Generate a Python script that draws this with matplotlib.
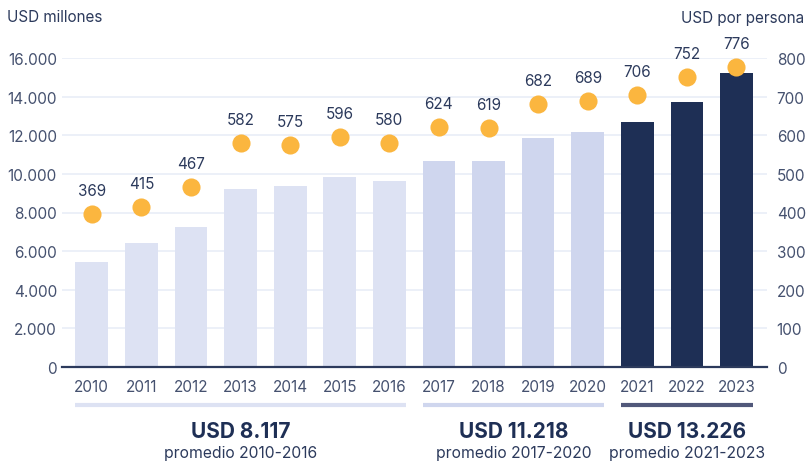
import matplotlib.pyplot as plt
from matplotlib.ticker import FuncFormatter

plt.rcParams['font.family'] = ['Inter', 'DejaVu Sans']

# datos
years = ['2010', '2011', '2012', '2013', '2014', '2015', '2016',
         '2017', '2018', '2019', '2020', '2021', '2022', '2023']
usd_millones = [5440, 6420, 7250, 9220, 9380, 9840, 9640,
                10670, 10670, 11860, 12180, 12690, 13730, 15230]
usd_persona_pos = [396, 414, 466, 580, 574, 595, 580,
                   622, 618, 681, 689, 704, 751, 777]
usd_persona_lbl = ['369', '415', '467', '582', '575', '596', '580',
                   '624', '619', '682', '689', '706', '752', '776']
groups = [(0, 6), (7, 10), (11, 13)]
group_avg = ['USD 8.117', 'USD 11.218', 'USD 13.226']
group_sub = ['promedio 2010-2016', 'promedio 2017-2020', 'promedio 2021-2023']

c_light = '#dde2f3'
c_mid = '#cfd6ee'
c_dark = '#1e2f55'
c_line_dark = '#51587a'
c_dot = '#fbb63f'
c_text = '#2c3a5c'
c_tick = '#45516f'

bar_colors = [c_light] * 7 + [c_mid] * 4 + [c_dark] * 3
grp_colors = [c_light, c_mid, c_line_dark]

fig = plt.figure(figsize=(8.06, 4.64), dpi=100)
ax = fig.add_axes([62 / 806, 1 - 368 / 464, 705 / 806, 309 / 464])
x = list(range(len(years)))

ax.bar(x, usd_millones, width=0.66, color=bar_colors, zorder=2)
ax.set_xlim(-0.6, 13.615)
ax.set_ylim(0, 16000)
ax.set_yticks(range(0, 16001, 2000))
ax.yaxis.set_major_formatter(FuncFormatter(lambda v, p: f'{int(v):,}'.replace(',', '.')))
ax.grid(axis='y', color='#e9edf7', lw=1.2, zorder=0)
ax.set_axisbelow(True)
ax.axhline(0, color=c_text, lw=1.6, zorder=3, clip_on=False)
for s in ax.spines.values():
    s.set_visible(False)
ax.set_xticks(x)
ax.set_xticklabels(years)
ax.tick_params(axis='x', length=0, pad=9, labelsize=11, labelcolor=c_tick)
ax.tick_params(axis='y', length=0, pad=3.6, labelsize=11, labelcolor=c_tick)

ax2 = ax.twinx()
ax2.set_ylim(0, 800)
ax2.set_yticks(range(0, 801, 100))
for s in ax2.spines.values():
    s.set_visible(False)
ax2.tick_params(axis='y', length=0, pad=7, labelsize=11, labelcolor=c_tick)
ax2.scatter(x, usd_persona_pos, s=170, color=c_dot, zorder=4, clip_on=False, linewidths=0)
for i, (v, t) in enumerate(zip(usd_persona_pos, usd_persona_lbl)):
    ax2.annotate(t, (i, v), xytext=(0, 17), textcoords='offset points',
                 ha='center', va='center', fontsize=11, color=c_text)

# lineas y promedios por grupo
tr = ax.get_xaxis_transform()
for (a, b), col, big, small in zip(groups, grp_colors, group_avg, group_sub):
    ax.plot([a - 0.33, b + 0.33], [-0.123, -0.123], transform=tr, color=col,
            lw=3, clip_on=False, solid_capstyle='butt')
    cx = (a + b) / 2
    ax.text(cx, -0.207, big, transform=tr, ha='center', va='center',
            fontsize=15, fontweight='bold', color=c_dark)
    ax.text(cx, -0.278, small, transform=tr, ha='center', va='center',
            fontsize=11.3, color=c_text)

fig.text(7 / 806, 1 - 18 / 464, 'USD millones', ha='left', va='center',
         fontsize=11, color=c_text)
fig.text(804 / 806, 1 - 18 / 464, 'USD por persona', ha='right', va='center',
         fontsize=11, color=c_text)

fig.savefig('out.png', dpi=100)
